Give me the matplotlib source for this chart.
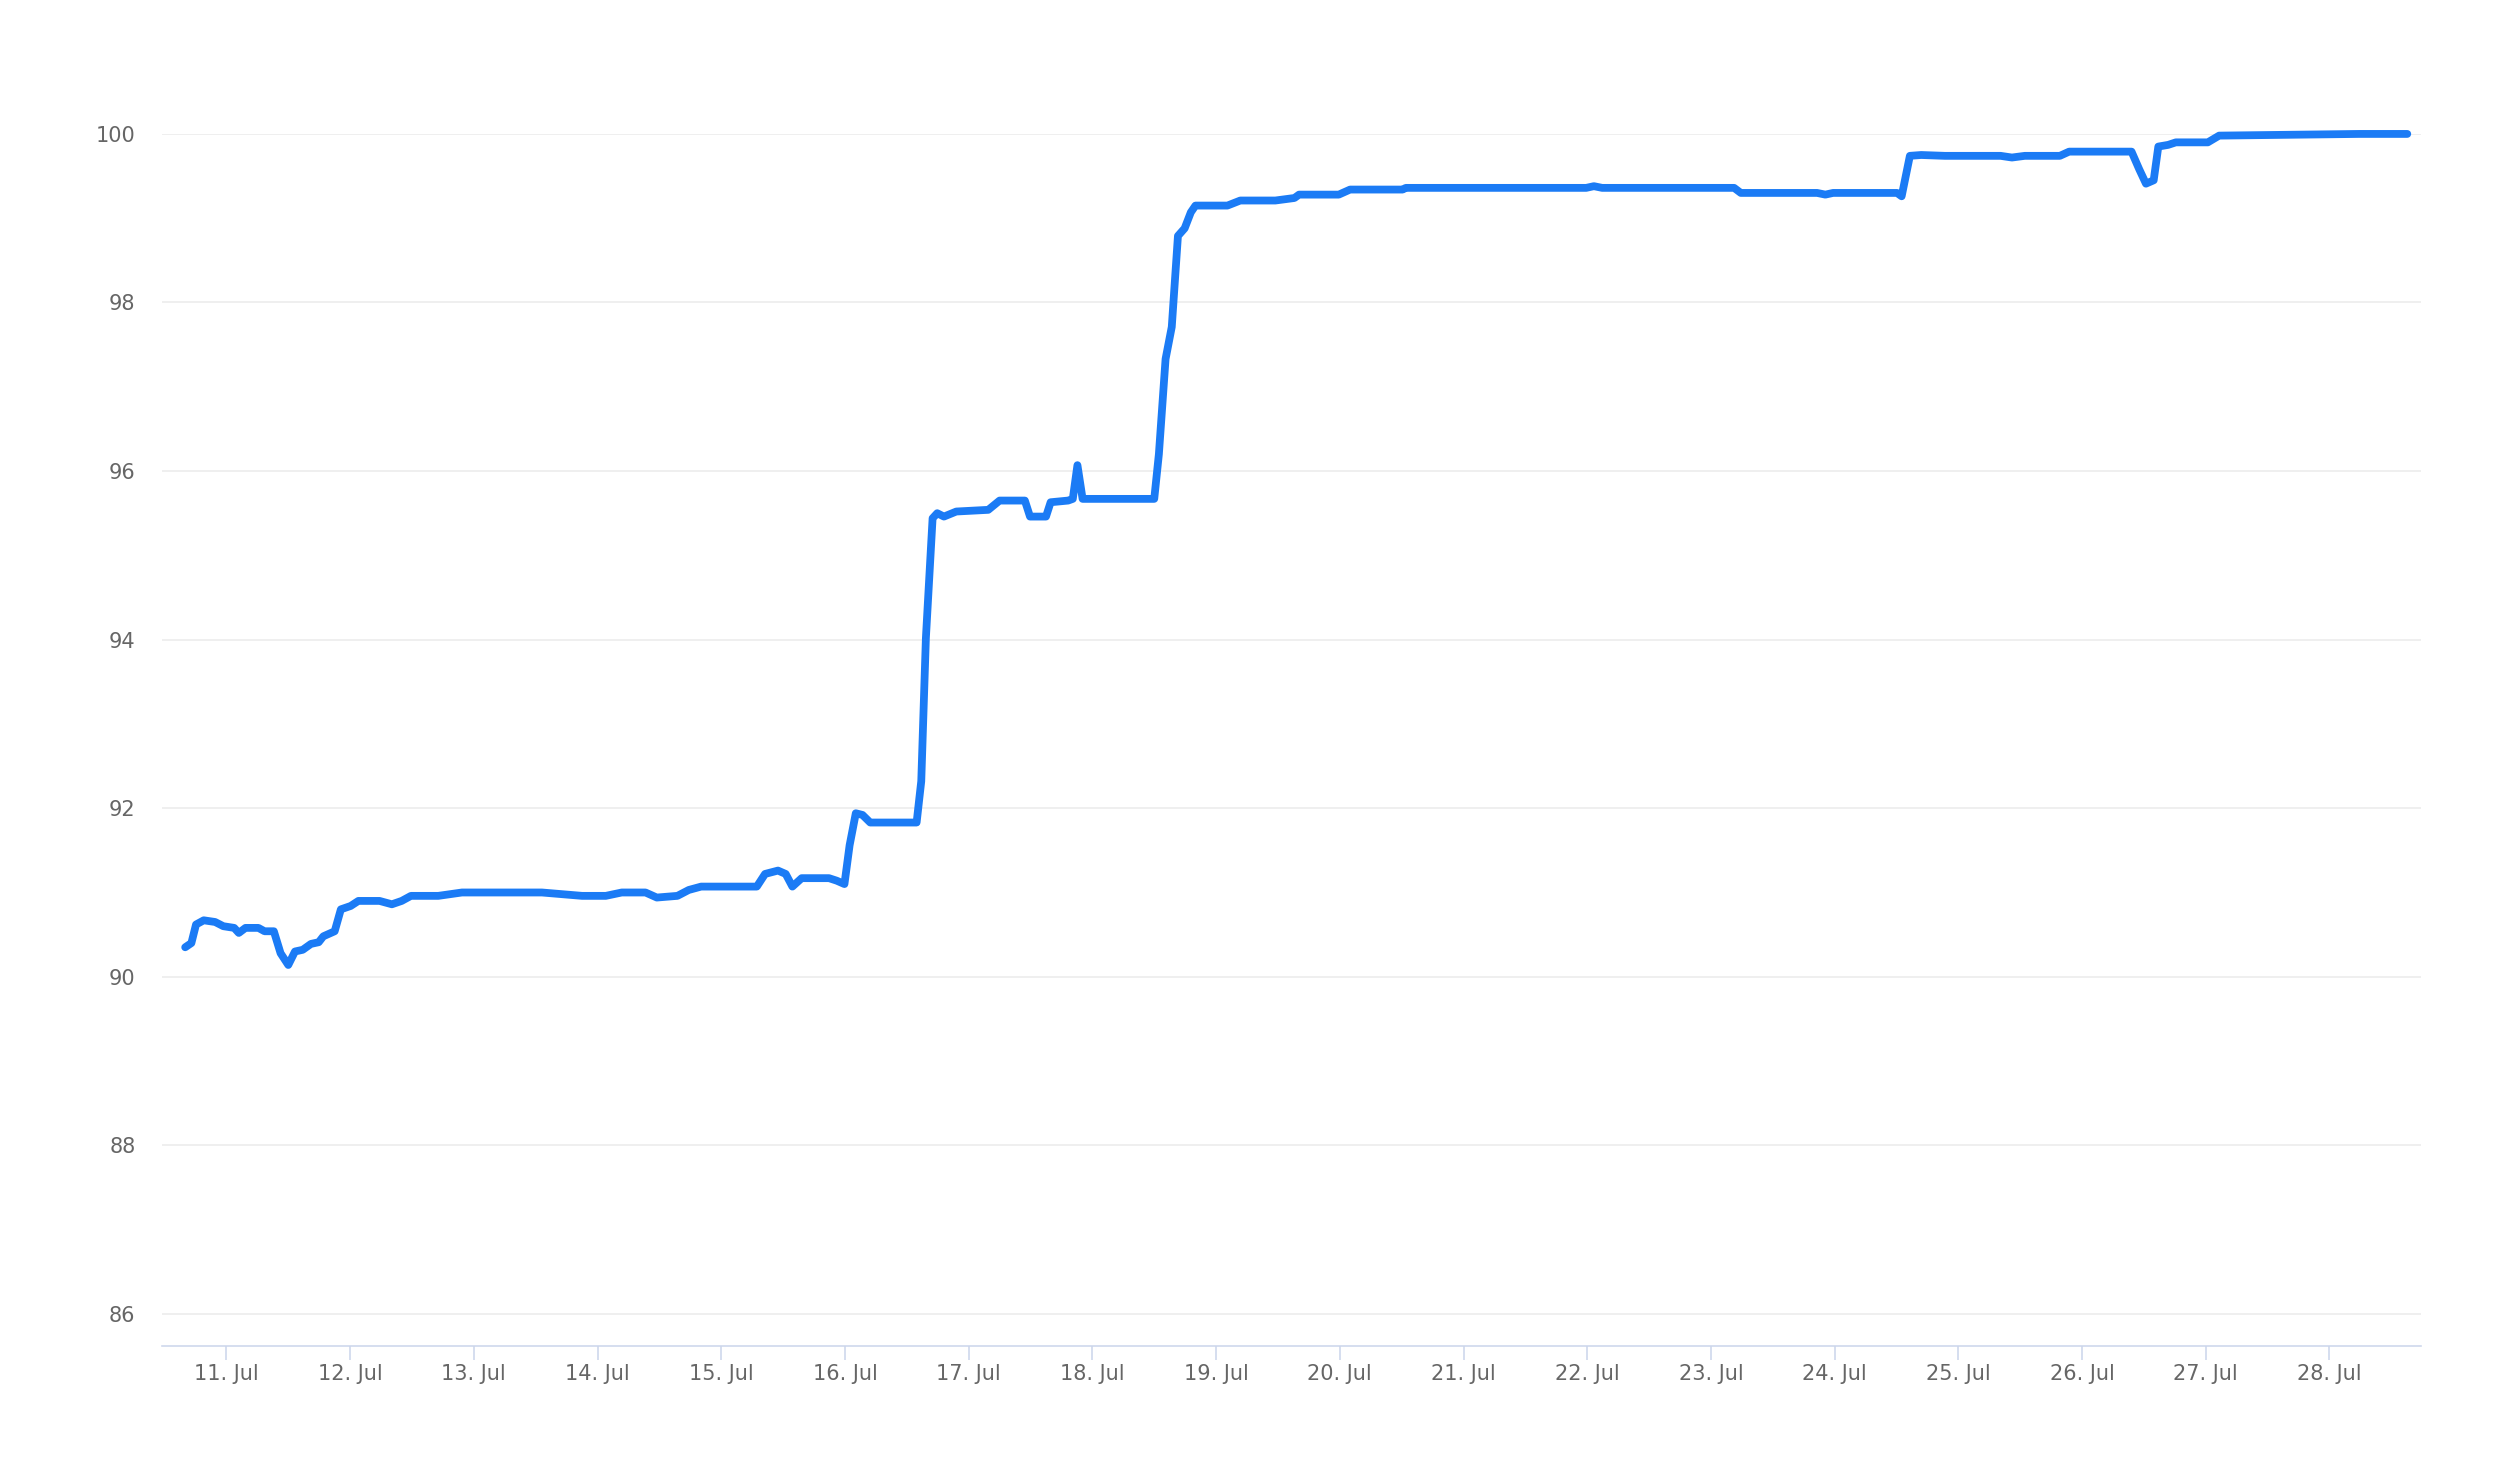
import numpy as np
import pandas as pd
import matplotlib
matplotlib.use('Agg')
import matplotlib.pyplot as plt
import matplotlib.dates as mdates

# hours since 10 Jul 00:00
hours = [16.0, 17.2, 18.1, 19.6, 21.8, 23.4, 25.5, 26.4, 27.7, 30.2, 31.4, 33.2,
         34.5, 36.0, 37.3, 38.8, 40.4, 41.9, 42.8, 45.0, 46.2, 48.1, 49.6, 53.7,
         56.1, 58.0, 59.8, 65.1, 69.7, 79.0, 85.2, 93.0, 97.6, 100.7, 105.3, 107.5,
         111.5, 113.7, 116.1, 126.9, 128.5, 131.0, 132.5, 133.8, 135.6, 140.9, 142.4,
         143.9, 144.9, 146.1, 147.4, 148.9, 153.2, 157.9, 158.8, 159.7, 161.0, 161.9,
         163.2, 165.6, 171.8, 174.0, 178.9, 179.9, 183.0, 183.9, 187.3, 188.2, 189.1,
         190.1, 196.6, 204.0, 204.9, 206.2, 207.4, 208.6, 209.9, 211.1, 212.0, 218.2,
         220.7, 227.5, 231.2, 232.1, 239.8, 242.0, 252.2, 252.8, 287.8, 289.3, 290.9,
         316.5, 317.8, 332.6, 334.2, 335.7, 348.1, 349.0, 350.6, 352.8, 357.4, 368.2,
         370.4, 372.9, 379.7, 381.5, 393.6, 395.1, 396.4, 397.9, 398.8, 400.7, 402.2,
         408.4, 410.6, 437.8, 447.1]
values = [90.35, 90.40, 90.62, 90.67, 90.65, 90.60, 90.58, 90.52, 90.58, 90.58, 90.54, 90.54,
          90.28, 90.14, 90.30, 90.32, 90.39, 90.41, 90.48, 90.54, 90.80, 90.84, 90.90, 90.90,
          90.86, 90.90, 90.96, 90.96, 91.00, 91.00, 91.00, 90.96, 90.96, 91.00, 91.00, 90.94,
          90.96, 91.03, 91.07, 91.07, 91.22, 91.26, 91.22, 91.07, 91.17, 91.17, 91.14,
          91.10, 91.56, 91.94, 91.92, 91.83, 91.83, 91.83, 92.32, 94.02, 95.44, 95.50,
          95.46, 95.52, 95.54, 95.65, 95.65, 95.46, 95.46, 95.63, 95.65, 95.67, 96.07,
          95.67, 95.67, 95.67, 96.20, 97.33, 97.71, 98.79, 98.88, 99.07, 99.15, 99.15,
          99.21, 99.21, 99.24, 99.28, 99.28, 99.34, 99.34, 99.36, 99.36, 99.38, 99.36,
          99.36, 99.30, 99.30, 99.28, 99.30, 99.30, 99.26, 99.74, 99.75, 99.74, 99.74,
          99.72, 99.74, 99.74, 99.79, 99.79, 99.58, 99.41, 99.45, 99.85, 99.87, 99.90,
          99.90, 99.98, 100.0, 100.0]
y_ticks = [86, 88, 90, 92, 94, 96, 98, 100]

start = pd.Timestamp('2020-07-10')
times = start + pd.to_timedelta(hours, unit='h')

fig = plt.figure(figsize=(25, 14.75), dpi=100)
ax = fig.add_axes([0.0648, 0.0875, 0.9036, 0.8217])

ax.plot(times, values, color='#1b7bf5', lw=5.6, solid_joinstyle='round',
        solid_capstyle='round', clip_on=False, zorder=3)

ax.set_ylim(85.62, 100)
ax.set_yticks(y_ticks)
ax.set_xlim(start + pd.Timedelta(hours=11.5), start + pd.Timedelta(hours=24 + 17.74 * 24))
ax.xaxis.set_major_locator(mdates.DayLocator())
ax.xaxis.set_major_formatter(mdates.DateFormatter('%d. %b'))

ax.grid(axis='y', color='#ebebeb', lw=1.15)
ax.set_axisbelow(True)
for s in ['top', 'right', 'left']:
    ax.spines[s].set_visible(False)
ax.spines['bottom'].set_color('#ccd6eb')
ax.spines['bottom'].set_linewidth(1.15)

ax.tick_params(axis='y', length=0, pad=19, labelsize=15, labelcolor='#666666')
ax.tick_params(axis='x', length=10, width=1.15, color='#ccd6eb', pad=3,
               labelsize=15, labelcolor='#666666')

fig.savefig('out.png', dpi=100, facecolor='white')
